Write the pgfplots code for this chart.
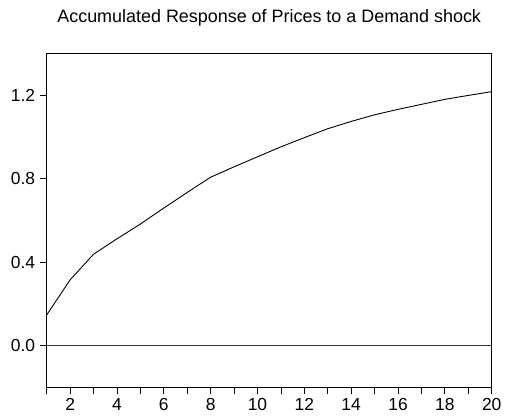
\documentclass[border=0pt]{standalone}
\usepackage{fontspec}
\setmainfont{Liberation Sans}
\usepackage{pgfplots}
\pgfplotsset{compat=1.18}

\begin{document}
\begin{tikzpicture}
\begin{axis}[
  width=445bp, height=333bp, scale only axis,
  xmin=1, xmax=20, ymin=-0.2, ymax=1.4,
  xtick={2,4,...,20}, minor xtick={1,3,...,19},
  ytick={0,0.4,0.8,1.2},
  yticklabel style={/pgf/number format/fixed, /pgf/number format/fixed zerofill, /pgf/number format/precision=1, xshift=-1bp},
  /pgf/number format/assume math mode=true,
  tick align=outside, tickpos=left,
  major tick length=7bp, minor tick length=7bp,
  every tick/.style={black, line width=0.8pt},
  axis line style={line width=1pt},
  ticklabel style={font=\fontsize{17.5}{19}\selectfont},
  xticklabel style={yshift=-1bp},
  title={Accumulated Response of Prices to a Demand shock},
  title style={font=\fontsize{18}{20}\selectfont, yshift=18bp},
]
\addplot[black, line width=0.9pt] coordinates {
  (1,0.146) (2,0.315) (3,0.438) (4,0.512) (5,0.583) (6,0.660)
  (7,0.735) (8,0.808) (9,0.858) (10,0.906) (11,0.954) (12,0.998)
  (13,1.041) (14,1.076) (15,1.108) (16,1.134) (17,1.158) (18,1.182)
  (19,1.201) (20,1.219)
};
\addplot[black!80, line width=0.8pt] coordinates {(1,0) (20,0)};
\end{axis}
\path (current axis.south west) ++(-46.7bp,-32bp) coordinate (bl);
\path (current axis.north east) ++(13.3bp,54bp) coordinate (tr);
\path (bl) rectangle (tr);
\end{tikzpicture}
\end{document}
